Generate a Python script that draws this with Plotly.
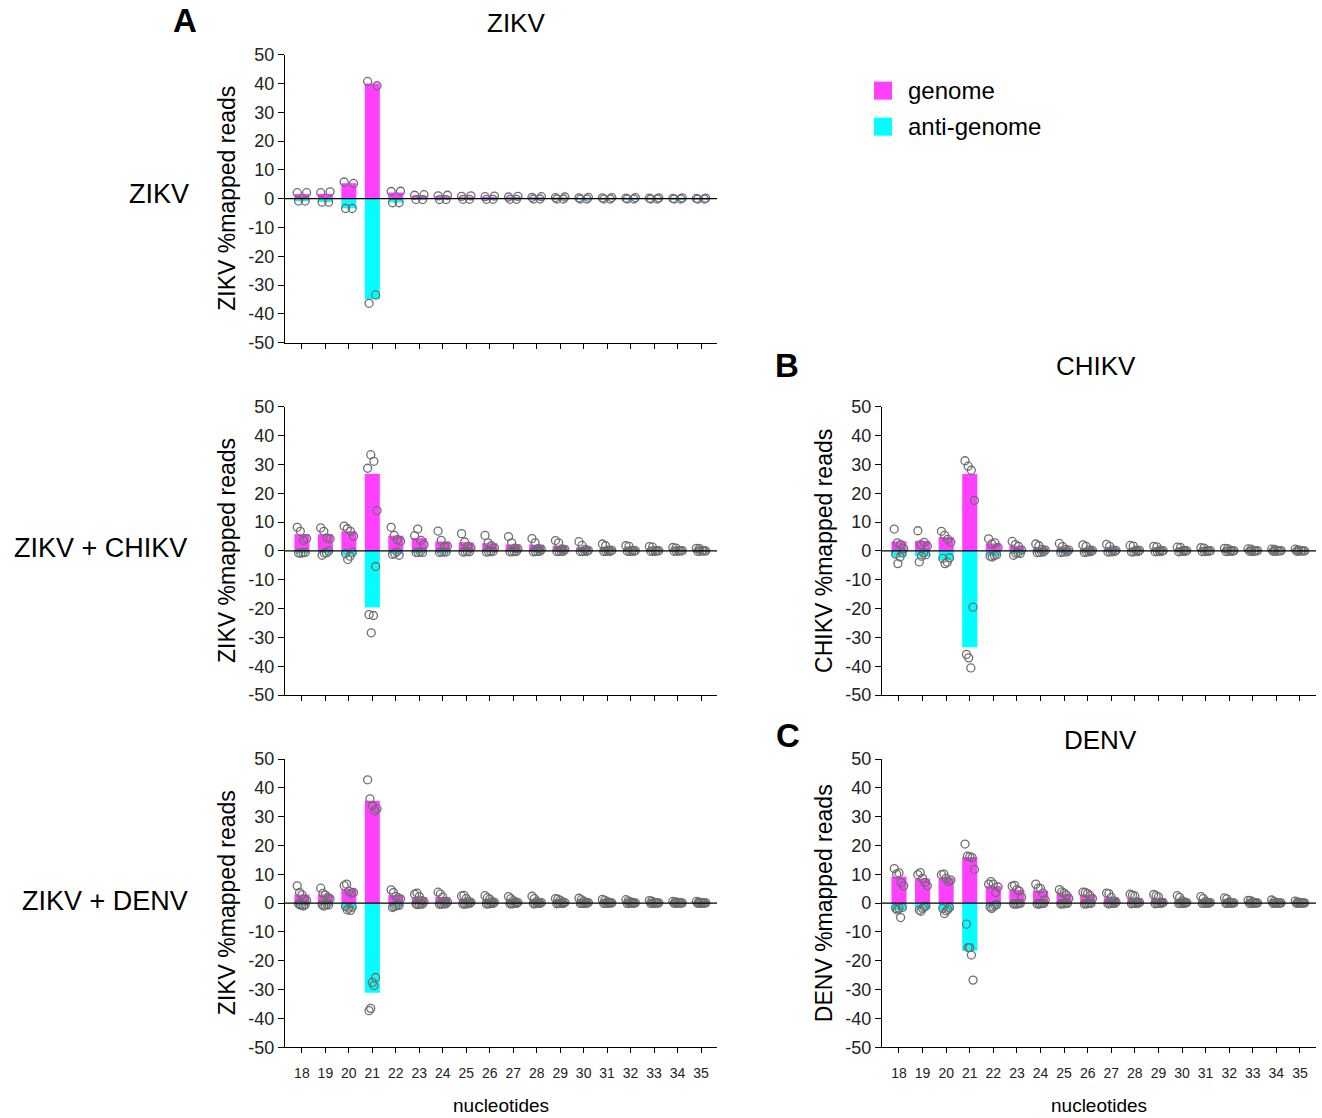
import plotly.graph_objects as go

# ---------------- data ----------------
nucleotides = list(range(18, 36))
tick_labels = [str(n) for n in nucleotides]
y_ticks = list(range(-50, 51, 10))

# Panel A (top): ZIKV alone -- ZIKV reads
a1_genome_bar = [1.6, 1.7, 5.4, 40.0, 2.2, 1.1, 0.9, 0.7, 0.6, 0.6, 0.5, 0.4, 0.35, 0.3, 0.25, 0.2, 0.15, 0.12]
a1_anti_bar = [-0.8, -1.1, -3.3, -34.9, -1.3, -0.3, -0.3, -0.2, -0.2, -0.2, -0.15, -0.1, -0.1, -0.1, -0.1, -0.08, -0.06, -0.05]
a1_genome_pts = [[2.1, 2.1], [2.1, 2.4], [5.8, 5.3], [40.7, 39.2], [2.5, 2.6], [1.2, 1.4], [1.0, 1.2],
                 [0.8, 1.0], [0.7, 0.9], [0.6, 0.8], [0.5, 0.7], [0.4, 0.6], [0.3, 0.5], [0.3, 0.4],
                 [0.2, 0.4], [0.2, 0.3], [0.1, 0.3], [0.1, 0.2]]
a1_anti_pts = [[-0.8, -0.8], [-1.2, -1.2], [-3.4, -3.4], [-36.3, -33.4], [-1.4, -1.4], [-0.3, -0.3],
               [-0.3, -0.3], [-0.2, -0.2], [-0.2, -0.2], [-0.2, -0.2], [-0.1, -0.1], [-0.1, -0.1],
               [-0.1, -0.1], [-0.1, -0.1], [-0.1, -0.1], [-0.1, -0.1], [-0.1, -0.1], [-0.1, -0.1]]

# Panel A (middle): ZIKV + CHIKV -- ZIKV reads
a2_genome_bar = [5.8, 5.8, 6.8, 26.8, 5.3, 4.5, 3.3, 3.0, 2.7, 2.3, 2.2, 1.8, 1.2, 1.0, 0.8, 0.6, 0.5, 0.4]
a2_anti_bar = [-0.6, -0.7, -1.5, -19.6, -1.0, -0.5, -0.4, -0.3, -0.3, -0.3, -0.2, -0.2, -0.2, -0.1, -0.1, -0.1, -0.1, -0.1]
a2_genome_pts = [[8.2, 6.8, 3.7, 4.3], [8.0, 6.8, 4.5, 4.2], [8.6, 7.7, 6.8, 5.1], [28.7, 33.4, 31.1, 14.0],
                 [8.2, 5.4, 3.9, 3.4], [5.3, 7.6, 3.7, 2.2], [6.9, 3.7, 1.6, 1.6], [6.0, 3.1, 1.6, 1.0],
                 [5.4, 2.8, 1.8, 1.0], [5.0, 2.8, 1.0, 0.7], [4.3, 2.8, 0.8, 0.5], [3.6, 2.8, 0.7, 0.5],
                 [3.2, 1.9, 0.5, 0.2], [2.4, 1.8, 0.3, 0.2], [1.8, 1.6, 0.2, 0.1], [1.5, 1.3, 0.1, 0.1],
                 [1.2, 1.0, 0.1, 0.1], [0.9, 0.8, 0.1, 0.0]]
a2_anti_pts = [[-0.7, -0.8, -0.6, -0.5], [-1.5, -0.7, -0.7, 0.0], [-0.9, -3.0, -1.8, -0.5], [-22.1, -28.4, -22.4, -5.4],
               [-1.2, -0.9, -0.3, -1.5], [-0.5, -0.5, -0.3, -0.5], [-0.5, -0.4, -0.3, -0.4], [-0.4, -0.3, -0.2, -0.3],
               [-0.4, -0.3, -0.2, -0.2], [-0.3, -0.3, -0.2, -0.2], [-0.3, -0.2, -0.2, -0.1], [-0.2, -0.2, -0.1, -0.1],
               [-0.2, -0.2, -0.1, -0.1], [-0.2, -0.1, -0.1, -0.1], [-0.1, -0.1, -0.1, -0.1], [-0.1, -0.1, -0.1, 0.0],
               [-0.1, -0.1, 0.0, 0.0], [-0.1, -0.1, 0.0, 0.0]]

# Panel A (bottom): ZIKV + DENV -- ZIKV reads
a3_genome_bar = [3.0, 3.0, 4.8, 35.5, 2.8, 2.1, 2.1, 1.5, 1.2, 1.0, 0.9, 0.9, 0.8, 0.6, 0.5, 0.4, 0.3, 0.3]
a3_anti_bar = [-0.6, -0.6, -1.8, -31.1, -1.0, -0.3, -0.3, -0.3, -0.2, -0.2, -0.2, -0.2, -0.1, -0.1, -0.1, -0.1, -0.1, -0.1]
a3_genome_pts = [[6.0, 3.7, 2.9, 1.5, 0.9], [5.2, 3.4, 2.8, 2.0, 1.5], [6.1, 6.6, 4.1, 3.5, 3.7],
                 [42.8, 36.2, 33.8, 32.1, 32.7], [4.6, 3.7, 2.3, 1.9, 1.5], [3.1, 3.5, 2.3, 0.9, 0.6],
                 [3.8, 3.2, 2.1, 0.6, 0.4], [2.5, 2.7, 1.6, 0.6, 0.3], [2.6, 1.9, 1.4, 0.5, 0.3],
                 [2.3, 1.6, 0.9, 0.4, 0.2], [2.4, 1.6, 0.6, 0.3, 0.2], [1.6, 1.4, 1.0, 0.4, 0.2],
                 [1.7, 1.2, 0.7, 0.3, 0.2], [1.3, 1.0, 0.5, 0.3, 0.1], [1.2, 0.8, 0.4, 0.2, 0.1],
                 [0.9, 0.7, 0.3, 0.2, 0.1], [0.6, 0.5, 0.3, 0.1, 0.1], [0.6, 0.4, 0.2, 0.1, 0.1]]
a3_anti_pts = [[-0.3, -0.6, -0.8, -1.0, -0.5], [-0.5, -1.0, -0.8, -0.3, -0.6], [-1.2, -2.3, -1.7, -2.5, -1.4],
               [-37.3, -36.5, -27.5, -28.6, -25.8], [-1.5, -1.2, -0.9, -0.6, -0.8], [-0.3, -0.5, -0.4, -0.2, -0.3],
               [-0.4, -0.3, -0.3, -0.2, -0.2], [-0.3, -0.3, -0.2, -0.2, -0.1], [-0.3, -0.2, -0.2, -0.1, -0.1],
               [-0.2, -0.2, -0.2, -0.1, -0.1], [-0.2, -0.2, -0.1, -0.1, -0.1], [-0.2, -0.1, -0.1, -0.1, -0.1],
               [-0.1, -0.1, -0.1, -0.1, 0.0], [-0.1, -0.1, -0.1, 0.0, 0.0], [-0.1, -0.1, 0.0, 0.0, 0.0],
               [-0.1, -0.1, 0.0, 0.0, 0.0], [-0.1, 0.0, 0.0, 0.0, 0.0], [-0.1, 0.0, 0.0, 0.0, 0.0]]

# Panel B: ZIKV + CHIKV -- CHIKV reads
b_genome_bar = [3.3, 3.5, 4.8, 26.7, 2.6, 1.8, 1.2, 1.1, 1.0, 0.9, 0.8, 0.7, 0.6, 0.5, 0.4, 0.3, 0.3, 0.3]
b_anti_bar = [-2.0, -1.9, -3.2, -33.4, -1.7, -0.9, -0.5, -0.4, -0.4, -0.3, -0.3, -0.2, -0.2, -0.2, -0.1, -0.1, -0.1, -0.1]
b_genome_pts = [[7.6, 2.8, 2.2, 0.8], [7.0, 2.2, 3.0, 1.6], [6.8, 5.4, 4.0, 3.0], [31.3, 29.4, 28.0, 17.5],
                [4.2, 2.4, 2.8, 1.2], [3.3, 2.2, 1.6, 0.3], [2.4, 1.8, 0.5, 0.3], [2.6, 1.5, 0.5, 0.3],
                [2.1, 1.6, 0.4, 0.2], [2.3, 1.6, 0.4, 0.2], [1.9, 1.7, 0.3, 0.2], [1.6, 1.4, 0.3, 0.1],
                [1.3, 1.2, 0.2, 0.1], [1.1, 1.0, 0.2, 0.1], [0.9, 0.8, 0.2, 0.1], [0.7, 0.6, 0.1, 0.1],
                [0.6, 0.5, 0.1, 0.1], [0.6, 0.4, 0.1, 0.0]]
b_anti_pts = [[-1.1, -4.4, -2.1, -0.7], [-3.8, -1.8, -0.7, -1.3], [-2.6, -4.4, -3.9, -2.4], [-35.9, -37.1, -40.6, -19.5],
              [-1.8, -2.1, -1.6, -1.3], [-1.5, -0.8, -0.6, -0.9], [-0.6, -0.5, -0.4, -0.3], [-0.5, -0.4, -0.3, -0.3],
              [-0.5, -0.4, -0.3, -0.2], [-0.4, -0.3, -0.3, -0.2], [-0.4, -0.3, -0.2, -0.2], [-0.3, -0.2, -0.2, -0.1],
              [-0.3, -0.2, -0.1, -0.1], [-0.2, -0.2, -0.1, -0.1], [-0.2, -0.1, -0.1, -0.1], [-0.1, -0.1, -0.1, 0.0],
              [-0.1, -0.1, 0.0, 0.0], [-0.1, -0.1, 0.0, 0.0]]

# Panel C: ZIKV + DENV -- DENV reads
c_genome_bar = [9.2, 8.5, 8.8, 16.0, 6.0, 4.6, 4.3, 3.3, 3.0, 2.0, 1.8, 1.7, 1.2, 1.0, 0.8, 0.5, 0.4, 0.3]
c_anti_bar = [-2.4, -1.9, -2.4, -16.5, -1.1, -0.2, -0.2, -0.2, -0.2, -0.2, -0.1, -0.1, -0.1, -0.1, -0.1, -0.1, -0.1, -0.1]
c_genome_pts = [[12.0, 10.1, 10.5, 7.1, 6.0], [9.9, 10.6, 8.6, 7.2, 6.0], [9.9, 10.1, 8.6, 7.4, 8.0],
                [20.5, 16.3, 16.1, 15.8, 11.7], [6.6, 7.5, 6.6, 3.7, 5.6], [5.9, 6.2, 4.7, 4.2, 2.0],
                [6.6, 5.2, 5.1, 3.5, 1.1], [4.7, 3.9, 3.5, 2.8, 1.6], [3.8, 3.7, 3.3, 2.6, 1.6],
                [3.5, 3.3, 2.0, 0.8, 0.4], [3.1, 2.8, 2.5, 0.5, 0.2], [3.0, 2.6, 2.2, 0.4, 0.2],
                [2.6, 2.0, 0.8, 0.4, 0.2], [2.3, 1.6, 0.6, 0.3, 0.2], [1.8, 1.5, 0.4, 0.2, 0.1],
                [1.0, 0.9, 0.4, 0.2, 0.1], [1.1, 0.6, 0.2, 0.1, 0.1], [0.7, 0.4, 0.2, 0.1, 0.1]]
c_anti_pts = [[-1.8, -2.4, -1.8, -5.0, -1.5], [-2.4, -2.8, -1.8, -1.3, -1.0], [-1.8, -3.6, -2.7, -2.2, -1.5],
              [-7.3, -15.4, -15.4, -18.0, -26.7], [-1.3, -1.8, -1.3, -0.7, -0.5], [-0.3, -0.2, -0.3, -0.2, -0.1],
              [-0.3, -0.3, -0.2, -0.1, -0.1], [-0.3, -0.2, -0.2, -0.1, -0.1], [-0.3, -0.2, -0.2, -0.1, -0.1],
              [-0.2, -0.2, -0.1, -0.1, -0.1], [-0.2, -0.1, -0.1, -0.1, 0.0], [-0.2, -0.1, -0.1, -0.1, 0.0],
              [-0.1, -0.1, -0.1, 0.0, 0.0], [-0.1, -0.1, -0.1, 0.0, 0.0], [-0.1, -0.1, 0.0, 0.0, 0.0],
              [-0.1, 0.0, 0.0, 0.0, 0.0], [-0.1, 0.0, 0.0, 0.0, 0.0], [-0.1, 0.0, 0.0, 0.0, 0.0]]

# ---------------- styling / layout ----------------
W, H = 1322, 1118
FONT = "Liberation Sans, Arial, Helvetica, sans-serif"
MAGENTA = "#FF40FF"
CYAN = "#00FFFF"
DOT = "#6E6E6E"


def vy(v):
    # vertical placement correction so the photographed page lines up with the target
    return (v - 10.4) / 0.9815


panels = [
    dict(ax="", g=a1_genome_bar, a=a1_anti_bar, gp=a1_genome_pts, ap=a1_anti_pts,
         px=(285, 717), py=(55, 343), ytitle="ZIKV %mapped reads", labels=False),
    dict(ax="2", g=a2_genome_bar, a=a2_anti_bar, gp=a2_genome_pts, ap=a2_anti_pts,
         px=(285, 717), py=(407, 695), ytitle="ZIKV %mapped reads", labels=False),
    dict(ax="3", g=a3_genome_bar, a=a3_anti_bar, gp=a3_genome_pts, ap=a3_anti_pts,
         px=(285, 717), py=(759, 1047), ytitle="ZIKV %mapped reads", labels=True),
    dict(ax="4", g=b_genome_bar, a=b_anti_bar, gp=b_genome_pts, ap=b_anti_pts,
         px=(882, 1316), py=(407, 695), ytitle="CHIKV %mapped reads", labels=False),
    dict(ax="5", g=c_genome_bar, a=c_anti_bar, gp=c_genome_pts, ap=c_anti_pts,
         px=(882, 1316), py=(759, 1047), ytitle="DENV %mapped reads", labels=True),
]


def spread(n, half):
    if n == 1:
        return [0.0]
    return [-half + 2 * half * i / (n - 1) for i in range(n)]


fig = go.Figure()
layout = dict(width=W, height=H, autosize=False, margin=dict(l=0, r=0, t=0, b=0),
              paper_bgcolor="white", plot_bgcolor="white", showlegend=False,
              barmode="overlay", font=dict(family=FONT, color="black"))
shapes = []
annotations = []

for p in panels:
    xa, ya = "x" + p["ax"], "y" + p["ax"]
    fig.add_trace(go.Bar(x=nucleotides, y=p["g"], width=0.64, marker=dict(color=MAGENTA, line=dict(width=0)),
                         name="genome", xaxis=xa, yaxis=ya))
    fig.add_trace(go.Bar(x=nucleotides, y=p["a"], width=0.64, marker=dict(color=CYAN, line=dict(width=0)),
                         name="anti-genome", xaxis=xa, yaxis=ya))
    xs, ys = [], []
    for n, gpts, apts in zip(nucleotides, p["gp"], p["ap"]):
        for off, v in zip(spread(len(gpts), 0.2), gpts):
            xs.append(n + off); ys.append(v)
        for off, v in zip(spread(len(apts), 0.14), apts):
            xs.append(n + off); ys.append(v)
    fig.add_trace(go.Scatter(x=xs, y=ys, mode="markers", xaxis=xa, yaxis=ya,
                             marker=dict(symbol="circle-open", size=8, color=DOT, line=dict(width=1.3))))

    y0, y1 = vy(p["py"][0]), vy(p["py"][1])
    xd = [p["px"][0] / W, p["px"][1] / W]
    yd = [1 - y1 / H, 1 - y0 / H]
    layout["xaxis" + p["ax"]] = dict(domain=xd, anchor=ya, range=[17.28, 35.68], tickmode="array",
                                     tickvals=nucleotides, ticktext=tick_labels, showticklabels=p["labels"],
                                     ticks="outside", ticklen=5, tickwidth=1.2, tickcolor="black",
                                     showline=True, linecolor="black", linewidth=1.3, showgrid=False,
                                     zeroline=False, ticklabelstandoff=8,
                                     tickfont=dict(family=FONT, size=14, color="#222"))
    layout["yaxis" + p["ax"]] = dict(domain=yd, anchor=xa, range=[-50, 50], tickmode="array",
                                     tickvals=y_ticks, ticktext=[str(t) for t in y_ticks],
                                     ticks="outside", ticklen=6, tickwidth=1.2, tickcolor="black",
                                     showline=True, linecolor="black", linewidth=1.3, showgrid=False,
                                     zeroline=False, tickfont=dict(family=FONT, size=18, color="#222"))
    shapes.append(dict(type="line", xref=xa + " domain", yref=ya, x0=0, x1=1, y0=0, y1=0,
                       line=dict(color="black", width=1.3), layer="above"))
    annotations.append(dict(text=p["ytitle"], textangle=-90, xref="paper", yref="paper",
                            x=(p["px"][0] - 58) / W, y=1 - (y0 + y1) / 2 / H,
                            xanchor="center", yanchor="middle", showarrow=False,
                            font=dict(family=FONT, size=23, color="black")))


def txt(text, x, y, size, bold=False, xanchor="center"):
    annotations.append(dict(text=("<b>%s</b>" % text) if bold else text, xref="paper", yref="paper",
                            x=x / W, y=1 - vy(y) / H, xanchor=xanchor, yanchor="middle", showarrow=False,
                            font=dict(family=FONT, size=size, color="black")))


# panel letters, titles, row labels, x titles
txt("A", 185, 21, 33, bold=True)
txt("B", 787, 366, 33, bold=True)
txt("C", 788, 735, 33, bold=True)
txt("ZIKV", 516, 23, 26)
txt("CHIKV", 1096, 366, 26)
txt("DENV", 1100, 740, 26)
txt("ZIKV", 159, 194, 27)
txt("ZIKV + CHIKV", 100, 548, 27)
txt("ZIKV + DENV", 105, 901, 27)
txt("nucleotides", 501, 1105, 19)
txt("nucleotides", 1099, 1105, 19)

# legend
legend_items = [("genome", MAGENTA, 91), ("anti-genome", CYAN, 127)]
for label, col, yc in legend_items:
    shapes.append(dict(type="rect", xref="paper", yref="paper", x0=874 / W, x1=892 / W,
                       y0=1 - vy(yc + 9) / H, y1=1 - vy(yc - 9) / H, fillcolor=col, line=dict(width=0)))
    txt(label, 906, yc, 24, xanchor="left")

layout["shapes"] = shapes
layout["annotations"] = annotations
fig.update_layout(**layout)

page_fix = (
    "document.documentElement.style.margin='0';"
    "document.documentElement.style.padding='0';"
    "document.documentElement.style.overflow='hidden';"
    "document.documentElement.style.height='1118px';"
    "document.body.style.margin='0';"
    "document.body.style.padding='0';"
    "document.body.style.overflow='hidden';"
    "document.body.style.height='1118px';"
    "var gd=document.getElementById('{plot_id}');"
    "gd.style.position='fixed';gd.style.left='0px';gd.style.top='0px';"
)
fig.write_html("out.html", config={"displayModeBar": False}, post_script=page_fix)
